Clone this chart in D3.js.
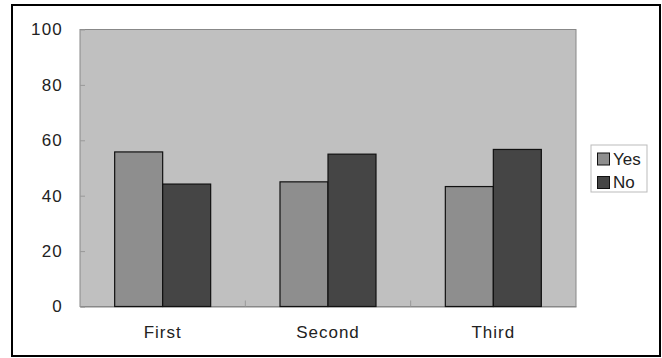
<!DOCTYPE html>
<html><head><meta charset="utf-8">
<script src="https://cdn.jsdelivr.net/npm/d3@7"></script>
<style>body{margin:0;background:#fff}svg text{font-family:"Liberation Sans",Arial,sans-serif}</style>
</head><body><svg id="c" width="662" height="358"></svg>
<script>
const categories = ["First", "Second", "Third"];
const seriesNames = ["Yes", "No"];
const yesValues = [55.8, 45, 43.3];
const noValues = [44.2, 55, 56.7];
const yTicks = [0, 20, 40, 60, 80, 100];
const colors = ["#8e8e8e", "#454545"];

const svg = d3.select("#c");
const L = 80, R = 576, T = 29.5, B = 306.5;

svg.append("rect").attr("x", 12).attr("y", 5).attr("width", 648).attr("height", 351)
  .attr("fill", "#fff").attr("stroke", "#000").attr("stroke-width", 2);

const x0 = d3.scaleBand().domain(categories).range([L, R]).paddingInner(0).paddingOuter(0);
const x1 = d3.scaleBand().domain(seriesNames).range([0, 96]);
const y = d3.scaleLinear().domain([0, 100]).range([B, T]);

svg.append("rect").attr("x", L).attr("y", T).attr("width", R - L).attr("height", B - T)
  .attr("fill", "#c0c0c0").attr("stroke", "#888").attr("stroke-width", 1);

// y axis
const yAxis = d3.axisLeft(y).tickValues(yTicks).tickSize(-5).tickPadding(17);
const ya = svg.append("g").attr("transform", `translate(${L},0)`).call(yAxis);
ya.select(".domain").remove();
ya.selectAll("line").attr("stroke", "#999");
ya.selectAll("text").attr("font-size", 17).attr("fill", "#222").style("letter-spacing", "1.2px");

// x axis
const xa = svg.append("g").attr("transform", `translate(0,${B})`)
  .call(d3.axisBottom(x0).tickSize(0).tickPadding(19));
xa.select(".domain").attr("stroke", "#888");
xa.selectAll("text").attr("font-size", 17).attr("fill", "#222").style("letter-spacing", "1px");
svg.append("g").selectAll("line").data(categories.slice(1)).join("line")
  .attr("x1", d => x0(d)).attr("x2", d => x0(d)).attr("y1", B).attr("y2", B - 6)
  .attr("stroke", "#999");

const data = categories.map((c, i) => ({c, vals: [yesValues[i], noValues[i]]}));
const groups = svg.append("g").selectAll("g").data(data).join("g")
  .attr("transform", d => `translate(${x0(d.c) + (x0.bandwidth() - 96) / 2},0)`);
groups.selectAll("rect").data(d => d.vals.map((v, j) => ({v, s: seriesNames[j], j}))).join("rect")
  .attr("x", d => x1(d.s)).attr("width", x1.bandwidth())
  .attr("y", d => y(d.v)).attr("height", d => B - y(d.v))
  .attr("fill", d => colors[d.j]).attr("stroke", "#111").attr("stroke-width", 1.2);

// legend
const lg = svg.append("g");
lg.append("rect").attr("x", 591).attr("y", 145).attr("width", 56).attr("height", 47)
  .attr("fill", "#fff").attr("stroke", "#bbb");
seriesNames.forEach((s, i) => {
  lg.append("rect").attr("x", 597.5).attr("y", 153 + i * 23.5).attr("width", 12).attr("height", 12)
    .attr("fill", colors[i]).attr("stroke", "#111");
  lg.append("text").attr("x", 613).attr("y", 159 + i * 23.5).attr("dy", "0.35em")
    .attr("font-size", 17).attr("fill", "#222").text(s);
});
</script></body></html>
